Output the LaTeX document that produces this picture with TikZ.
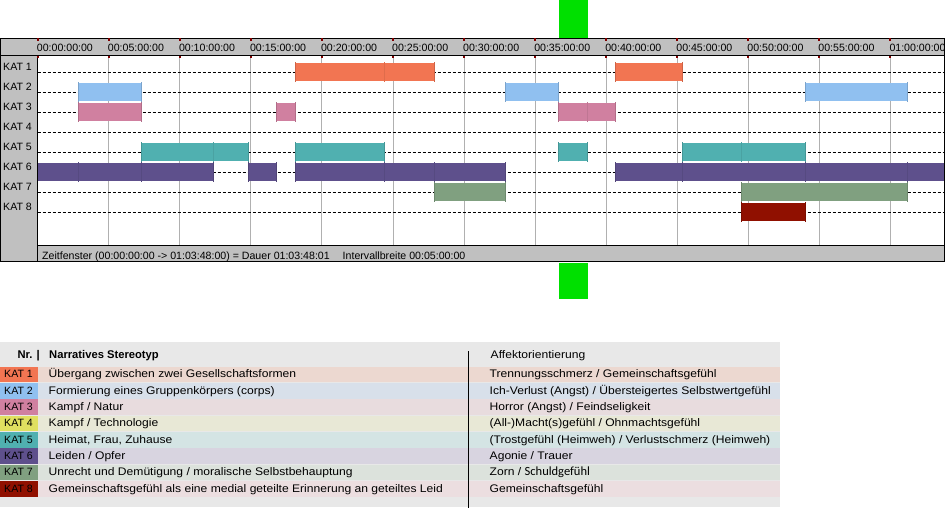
\documentclass[tikz,border=0pt]{standalone}
\usepackage{fontspec}
\setmainfont{Liberation Sans}
\newfontfamily\tabfont[FakeStretch=1.1]{Liberation Sans}
\newfontfamily\calfont{Carlito}
\usepackage{tikz}
\usetikzlibrary{positioning}

\definecolor{kat1}{RGB}{242,117,82}
\definecolor{kat2}{RGB}{144,192,240}
\definecolor{kat3}{RGB}{208,128,160}
\definecolor{kat4}{RGB}{224,224,96}
\definecolor{kat5}{RGB}{80,176,176}
\definecolor{kat6}{RGB}{94,80,140}
\definecolor{kat7}{RGB}{128,160,128}
\definecolor{kat8}{RGB}{144,16,0}
\definecolor{tint1}{RGB}{236,216,208}
\definecolor{tint2}{RGB}{216,224,234}
\definecolor{tint3}{RGB}{232,220,222}
\definecolor{tint4}{RGB}{232,232,214}
\definecolor{tint5}{RGB}{212,228,228}
\definecolor{tint6}{RGB}{216,212,224}
\definecolor{tint7}{RGB}{220,226,220}
\definecolor{tint8}{RGB}{236,222,224}
\definecolor{framegray}{RGB}{192,192,192}
\definecolor{gridgray}{RGB}{176,176,176}
\definecolor{tablegray}{RGB}{232,232,232}
\definecolor{tickred}{RGB}{128,0,0}
\definecolor{marker}{RGB}{0,224,0}

\tikzset{
  chartfont/.style={font=\fontsize{10.6}{12}\selectfont, inner sep=0pt},
  tabtext/.style={font=\tabfont\fontsize{11}{13}\selectfont, inner sep=0pt, anchor=base west},
  tabhead/.style={font=\bfseries\fontsize{11.2}{13}\selectfont, inner sep=0pt, anchor=base west},
  rowline/.style={black, dash pattern=on 3pt off 2pt, line width=0.8pt}
}

\begin{document}
\begin{tikzpicture}[x=1pt,y=-1pt]
  \useasboundingbox (0,0) rectangle (945,530);

  % gruene Markierung
  \fill[marker] (559.3,0) rectangle (588,38);
  \fill[marker] (559.3,262.5) rectangle (588,299);

  % Rahmen der Zeitleiste
  \fill[framegray] (0,38) rectangle (944.5,262);
  \fill[white] (37.7,55) rectangle (944,245);

  % Raster alle 5 Minuten
  \foreach \k in {1,...,12} {
    \draw[gridgray, line width=0.9pt] ({37.7+71.05*\k},55) -- ({37.7+71.05*\k},245);
  }

  % Kategorienzeilen
  \foreach \n in {1,...,8} {
    \draw[rowline] (37.7,{52.3+20*\n}) -- (944,{52.3+20*\n});
    \node[chartfont, anchor=base west] (kat\n) at (3,{50.7+20*\n}) {KAT \n};
  }

  % Balken (Minuten)
  \begin{scope}[x=14.22pt, xshift=37.7pt]
    \foreach \r/\s/\e/\c in {
      1/18.12/27.92/kat1, 1/40.62/45.36/kat1,
      2/2.86/7.31/kat2, 2/32.88/36.64/kat2, 2/53.98/61.18/kat2,
      3/2.86/7.31/kat3, 3/16.78/18.12/kat3, 3/36.64/40.65/kat3,
      5/7.31/14.84/kat5, 5/18.12/24.40/kat5, 5/36.64/38.68/kat5, 5/45.33/54.01/kat5,
      6/0/12.38/kat6, 6/14.81/16.81/kat6, 6/18.12/32.88/kat6, 6/40.62/63.75/kat6,
      7/27.89/32.88/kat7, 7/49.46/61.18/kat7,
      8/49.46/54.01/kat8} {
      \fill[\c] (\s,{43+20*\r}) rectangle (\e,{61+20*\r});
      \draw[\c!85!black, line width=0.6pt] (\s,{42+20*\r}) -- (\s,{62+20*\r})
        (\e,{42+20*\r}) -- (\e,{62+20*\r});
    }
    % Teilstriche innerhalb der Balken
    \foreach \r/\m/\c in {1/24.35/kat1, 3/38.68/kat3, 5/12.38/kat5, 5/49.48/kat5,
      6/2.86/kat6, 6/7.31/kat6, 6/24.35/kat6, 6/27.92/kat6,
      6/45.36/kat6, 6/54.01/kat6, 6/61.18/kat6} {
      \draw[\c!92!black, line width=0.5pt] (\m,{42+20*\r}) -- (\m,{62+20*\r});
    }
  \end{scope}

  % Linien des Rahmens
  \draw[black, line width=1pt] (0.5,38.5) rectangle (944.3,261.8);
  \draw[black, line width=1pt] (0.5,55) -- (944.3,55);
  \draw[black, line width=1pt] (37.7,55) -- (37.7,261.8);
  \draw[black, line width=1pt] (37.7,245) -- (944.3,245);

  % Zeitachse
  \begin{scope}
    \clip (0,38) rectangle (944,262);
    \foreach \k/\lab in {0/00:00:00:00, 1/00:05:00:00, 2/00:10:00:00, 3/00:15:00:00,
      4/00:20:00:00, 5/00:25:00:00, 6/00:30:00:00, 7/00:35:00:00, 8/00:40:00:00,
      9/00:45:00:00, 10/00:50:00:00, 11/00:55:00:00, 12/01:00:00:00} {
      \fill[tickred] ({36.7+71.05*\k},38) rectangle ({38.7+71.05*\k},41);
      \fill[tickred] ({36.7+71.05*\k},55.5) rectangle ({38.7+71.05*\k},57.5);
      \node[chartfont, anchor=base west] (t\k) at ({36.7+71.05*\k},51.3) {\lab};
    }
  \end{scope}

  % Statuszeile
  \node[chartfont, anchor=base west] (status) at (42,259.5)
    {Zeitfenster (00:00:00:00 -> 01:03:48:00) = Dauer 01:03:48:01\hspace{13pt}Intervallbreite 00:05:00:00};

  % Legende
  \fill[tablegray] (0,342) rectangle (780,507);
  \node[tabhead, anchor=base east] (nr) at (40,358.5) {Nr. |};
  \node[tabhead] (narrhead) at (49,358.5) {Narratives Stereotyp};
  \node[tabtext] (affhead) at (490.5,358.5) {Affektorientierung};
  \foreach \i/\narr/\aff in {
    1/{Übergang zwischen zwei Gesellschaftsformen}/{Trennungsschmerz / Gemeinschaftsgefühl},
    2/{Formierung eines Gruppenkörpers (corps)}/{Ich-Verlust (Angst) / Übersteigertes Selbstwertgefühl},
    3/{Kampf / Natur}/{Horror (Angst) / Feindseligkeit},
    4/{Kampf / Technologie}/{(All-)Macht(s)gefühl / Ohnmachtsgefühl},
    5/{Heimat, Frau, Zuhause}/{(Trostgefühl (Heimweh) / Verlustschmerz (Heimweh)},
    6/{Leiden / Opfer}/{Agonie / Trauer},
    7/{Unrecht und Demütigung / moralische Selbstbehauptung}/{Zorn / {\calfont\fontsize{12.5}{13}\selectfont Schuldgefühl}},
    8/{Gemeinschaftsgefühl als eine medial geteilte Erinnerung an geteiltes Leid}/{Gemeinschaftsgefühl}} {
    \fill[kat\i] (0,{366.7+16.35*(\i-1)}) rectangle (37.7,{382.2+16.35*(\i-1)});
    \fill[tint\i] (37.7,{366.7+16.35*(\i-1)}) rectangle (780,{382.2+16.35*(\i-1)});
    \node[chartfont, anchor=base west] (leg\i) at (4,{377.8+16.35*(\i-1)}) {KAT \i};
    \node[tabtext] (narr\i) at (48.5,{377.8+16.35*(\i-1)}) {\narr};
    \node[tabtext] (aff\i) at (489.5,{377.8+16.35*(\i-1)}) {\aff};
  }
  \draw[black, line width=1pt] (468.3,351) -- (468.3,507.5);
\end{tikzpicture}
\end{document}
